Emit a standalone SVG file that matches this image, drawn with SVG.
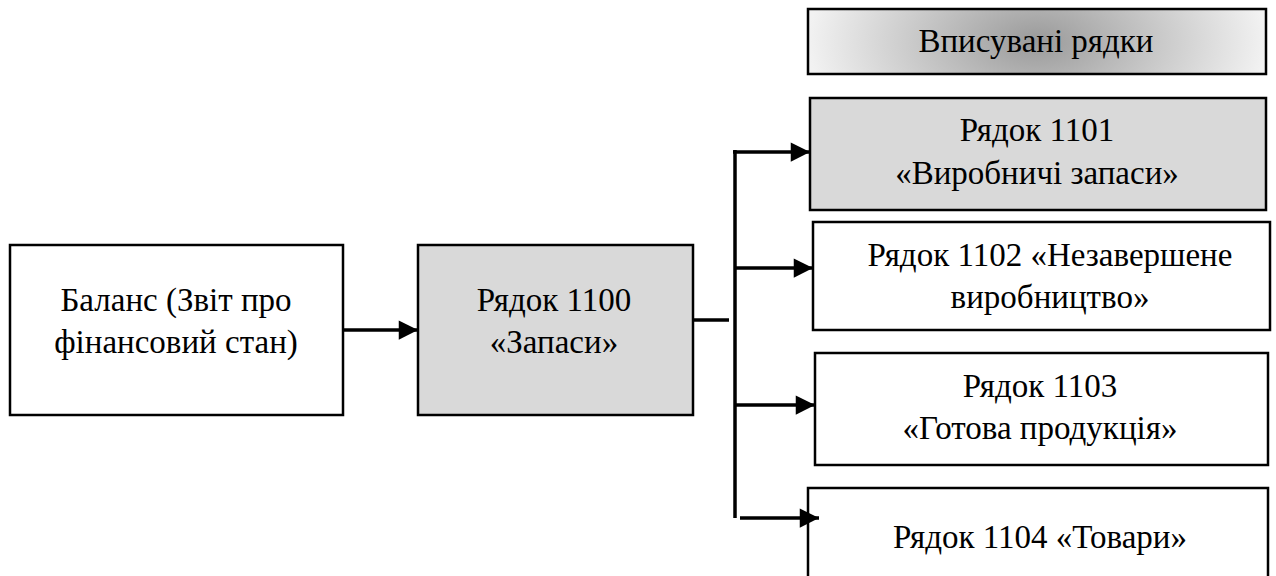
<svg xmlns="http://www.w3.org/2000/svg" width="1276" height="576" viewBox="0 0 1276 576">
<style>
.box{stroke:#000;stroke-width:2.5}
.w{fill:#fff}
.g{fill:#d9d9d9}
.t{font-family:'Liberation Serif','DejaVu Serif',serif;font-size:33px;fill:#000;text-anchor:middle}
.c{stroke:#000;stroke-width:3.5;fill:none}
</style>
<defs>
<radialGradient id="grad" cx="0.5" cy="0.5" r="0.5" gradientTransform="translate(0.5 0.5) scale(1 4) translate(-0.5 -0.5)">
<stop offset="0" stop-color="#9a9a9a"/>
<stop offset="1" stop-color="#f2f2f2"/>
</radialGradient>
<marker id="ah" viewBox="0 0 10 10" refX="10" refY="5" markerWidth="6" markerHeight="5.5" orient="auto" markerUnits="strokeWidth">
<path d="M0,0 L10,5 L0,10 z" fill="#000"/>
</marker>
</defs>
<g id="legend"><rect class="box" x="808" y="9" width="458" height="65" fill="url(#grad)"/><text class="t" x="1036" y="52">Вписувані рядки</text></g>
<g id="balance"><rect class="box w" x="10" y="245" width="333" height="170"/><text class="t" x="176" y="311">Баланс (Звіт про</text><text class="t" x="176" y="353">фінансовий стан)</text></g>
<g id="r1100"><rect class="box g" x="418" y="245" width="275" height="170"/><text class="t" x="554" y="311">Рядок 1100</text><text class="t" x="554" y="353">«Запаси»</text></g>
<g id="r1101"><rect class="box g" x="810" y="98" width="456" height="112"/><text class="t" x="1037" y="141">Рядок 1101</text><text class="t" x="1037" y="184">«Виробничі запаси»</text></g>
<g id="r1102"><rect class="box w" x="813" y="222" width="457" height="108"/><text class="t" x="1050" y="266">Рядок 1102 «Незавершене</text><text class="t" x="1050" y="308">виробництво»</text></g>
<g id="r1103"><rect class="box w" x="815" y="353" width="453" height="112"/><text class="t" x="1040" y="397">Рядок 1103</text><text class="t" x="1040" y="439">«Готова продукція»</text></g>
<g id="r1104"><rect class="box w" x="808" y="488" width="460" height="100"/><text class="t" x="1040" y="548">Рядок 1104 «Товари»</text></g>
<g id="connectors">
<line class="c" x1="343" y1="330" x2="418" y2="330" marker-end="url(#ah)"/>
<line class="c" x1="693" y1="320" x2="729" y2="320"/>
<line class="c" x1="735" y1="150" x2="735" y2="518"/>
<line class="c" x1="733" y1="152" x2="810" y2="152" marker-end="url(#ah)"/>
<line class="c" x1="735" y1="268" x2="813" y2="268" marker-end="url(#ah)"/>
<line class="c" x1="735" y1="405" x2="815" y2="405" marker-end="url(#ah)"/>
<line class="c" x1="740" y1="518" x2="819" y2="518" marker-end="url(#ah)"/>
</g>
</svg>
